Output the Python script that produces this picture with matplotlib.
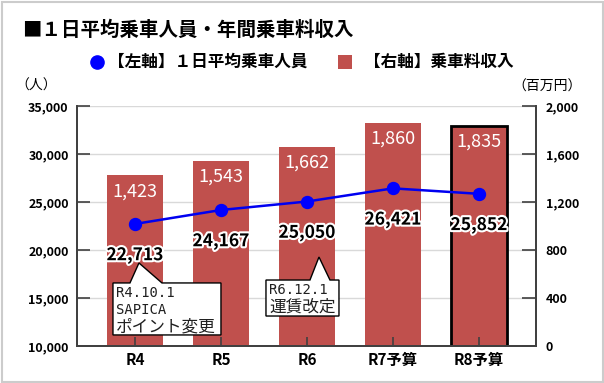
import matplotlib
matplotlib.use('Agg')
import matplotlib.pyplot as plt
import matplotlib.patheffects as pe
from matplotlib.patches import Polygon, Rectangle
from matplotlib.lines import Line2D
from matplotlib.ticker import FuncFormatter

# Japanese font first, DejaVu as fallback
plt.rcParams['font.family'] = ['Noto Sans CJK JP', 'DejaVu Sans']

# %% DATA
categories = ['R4', 'R5', 'R6', 'R7予算', 'R8予算']
riders = [22713, 24167, 25050, 26421, 25852]      # left axis (人)
revenue = [1423, 1543, 1662, 1860, 1835]          # right axis (百万円)
left_ticks = [10000, 15000, 20000, 25000, 30000, 35000]
right_ticks = [0, 400, 800, 1200, 1600, 2000]
note_r4 = ['R4.10.1', 'SAPICA', 'ポイント変更']
note_r6 = ['R6.12.1', '運賃改定']

BAR = '#C0504D'
BLUE = '#0000F0'
DARK = '#404040'
W, H = 604, 383

# %% FIGURE AND AXES
fig = plt.figure(figsize=(W / 100, H / 100), dpi=100)
ax = fig.add_axes([77 / W, 1 - 346 / H, 459 / W, 240 / H])
ax2 = ax.twinx()
ax.set_zorder(2)
ax.patch.set_visible(False)
ax2.set_zorder(1)

x = list(range(len(categories)))

# bars on the right axis
bars = ax2.bar(x, revenue, width=0.65, color=BAR, zorder=2)
bars[-1].set_edgecolor('black')
bars[-1].set_linewidth(2)
for xi, v in zip(x, revenue):
    ax2.annotate(f'{v:,}', (xi, v), xytext=(0, -11.5), textcoords='offset points',
                 ha='center', va='center', color='white', fontsize=13, zorder=3)

# riders line on the left axis
ax.plot(x, riders, color=BLUE, lw=1.8, marker='o', markersize=8.6,
        markerfacecolor='#0000FF', markeredgecolor='#0000FF', zorder=4)
for xi, v in zip(x, riders):
    ax.annotate(f'{v:,}', (xi, v), xytext=(0, -22.5), textcoords='offset points',
                ha='center', va='center', color='black', fontsize=12.5,
                fontweight='bold', zorder=5,
                path_effects=[pe.withStroke(linewidth=3, foreground='white')])

# limits and ticks
ax.set_xlim(-0.674, 4.663)
ax.set_ylim(left_ticks[0], left_ticks[-1])
ax2.set_ylim(right_ticks[0], right_ticks[-1])
ax.set_yticks(left_ticks)
ax2.set_yticks(right_ticks)
ax.set_xticks(x)
ax.set_xticklabels(categories, fontsize=11, fontweight='bold')
fmt = FuncFormatter(lambda v, p: f'{v:,.0f}')
ax.yaxis.set_major_formatter(fmt)
ax2.yaxis.set_major_formatter(fmt)
for lab in ax.get_yticklabels() + ax2.get_yticklabels():
    lab.set_fontweight('bold')
    lab.set_fontsize(9)

ax.tick_params(axis='y', direction='in', length=9.5, width=1.2, color=DARK, pad=6)
ax2.tick_params(axis='y', direction='in', length=10, width=1.2, color=DARK, pad=7)
ax.tick_params(axis='x', direction='in', length=6.5, width=1.2, color=DARK, pad=4)

ax2.yaxis.grid(True, color='#D9D9D9', lw=1)
ax2.set_axisbelow(True)

for a in (ax, ax2):
    a.spines['top'].set_visible(False)
    for s in ('left', 'right', 'bottom'):
        a.spines[s].set_color(DARK)
        a.spines[s].set_linewidth(1.3)


# %% CALLOUT BOXES
def px_to_fig(px, py):
    return px / W, 1 - py / H


def callout(idx, lines, box, tip, base, line_h):
    # anchor in pixels (y measured from top)
    ax_px = ax.transData.transform((idx, riders[idx]))
    cx, cy = ax_px[0], H - ax_px[1]
    x0, x1, y0, y1 = box
    verts = [(cx + x0, cy + y0), (cx + base[0], cy + y0), (cx + tip[0], cy + tip[1]),
             (cx + base[1], cy + y0), (cx + x1, cy + y0), (cx + x1, cy + y1),
             (cx + x0, cy + y1)]
    poly = Polygon([px_to_fig(*v) for v in verts], closed=True, transform=fig.transFigure,
                   facecolor='white', edgecolor='black', lw=1.0, zorder=6, clip_on=False)
    ax.add_patch(poly)
    for k, t in enumerate(lines):
        tx, ty = px_to_fig(cx + x0 + 3, cy + y0 + 10 + k * line_h)
        if t.isascii():
            fig.text(tx, ty, t, fontsize=10, family='DejaVu Sans Mono', va='center',
                     ha='left', color='#202020', zorder=7)
        else:
            fig.text(tx, ty, t, fontsize=12, va='center', ha='left',
                     color='#202020', zorder=7)


callout(0, note_r4, (-22, 86, 59, 111), (4, 39), (-5, 27), 17)
callout(2, note_r6, (-41, 32, 78.5, 114.5), (12, 55.5), (3, 23), 17)

# %% TITLE, LEGEND, UNITS
fig.text(*px_to_fig(22, 30), '■１日平均乗車人員・年間乗車料収入', fontsize=14,
         fontweight='bold', va='center', ha='left')
fig.add_artist(Line2D([97 / W], [1 - 62 / H], marker='o', markersize=9.5,
                      color='#0000FF', transform=fig.transFigure))
fig.text(*px_to_fig(108, 62), '【左軸】１日平均乗車人員', fontsize=12,
         fontweight='bold', va='center', ha='left')
fig.add_artist(Rectangle(px_to_fig(338, 69), 14 / W, 14 / H, facecolor=BAR,
                         edgecolor='none', transform=fig.transFigure))
fig.text(*px_to_fig(364, 62), '【右軸】乗車料収入', fontsize=12,
         fontweight='bold', va='center', ha='left')
fig.text(*px_to_fig(15, 86), '（人）', fontsize=10, va='center', ha='left')
fig.text(*px_to_fig(582, 87), '（百万円）', fontsize=10, va='center', ha='right')

# light frame around the picture
fig.add_artist(Rectangle((1.5 / W, 1.5 / H), 1 - 3 / W, 1 - 3 / H, fill=False,
                         edgecolor='#CCCCCC', lw=1.5, transform=fig.transFigure))

fig.savefig('out.png', dpi=100)
